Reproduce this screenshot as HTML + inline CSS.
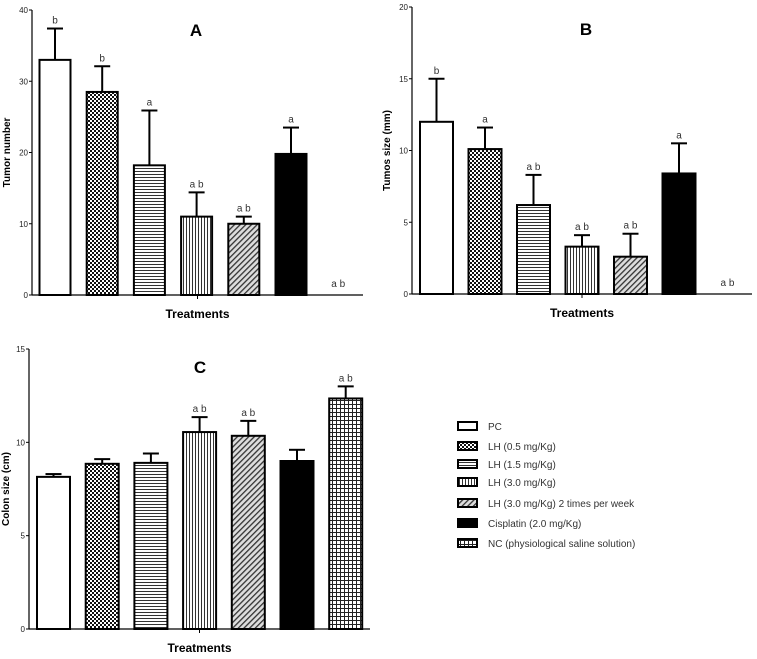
<!DOCTYPE html>
<html><head><meta charset="utf-8">
<style>
body{margin:0;background:#fff;width:757px;height:654px;overflow:hidden;font-family:"Liberation Sans",Arial,sans-serif}
svg text{font-family:"Liberation Sans",Arial,sans-serif}
</style></head>
<body>
<svg id="fig" width="757" height="654" viewBox="0 0 757 654" xmlns="http://www.w3.org/2000/svg">
<defs>
<pattern id="p0" width="4" height="4" patternUnits="userSpaceOnUse"><rect width="4" height="4" fill="#fff"/></pattern>
<pattern id="p1" width="4" height="4" patternUnits="userSpaceOnUse"><rect width="4" height="4" fill="#fff"/><rect width="2" height="2" fill="#111"/><rect x="2" y="2" width="2" height="2" fill="#111"/></pattern>
<pattern id="p2" width="4" height="3" patternUnits="userSpaceOnUse"><rect width="4" height="3" fill="#fff"/><rect width="4" height="1" fill="#333"/></pattern>
<pattern id="p3" width="3" height="4" patternUnits="userSpaceOnUse"><rect width="3" height="4" fill="#fff"/><rect width="1" height="4" fill="#333"/></pattern>
<pattern id="p4" width="4" height="4" patternUnits="userSpaceOnUse" patternTransform="rotate(45)"><rect width="4" height="4" fill="#ddd"/><rect width="1.3" height="4" fill="#333"/></pattern>
<pattern id="p5" width="4" height="4" patternUnits="userSpaceOnUse"><rect width="4" height="4" fill="#000"/></pattern>
<pattern id="p6" width="4" height="4" patternUnits="userSpaceOnUse"><rect width="4" height="4" fill="#fff"/><rect width="4" height="1" fill="#222"/><rect width="1" height="4" fill="#222"/></pattern>
</defs>
</svg>
<script>
const categories=["PC","LH (0.5 mg/Kg)","LH (1.5 mg/Kg)","LH (3.0 mg/Kg)","LH (3.0 mg/Kg) 2 times per week","Cisplatin (2.0 mg/Kg)","NC (physiological saline solution)"];
const tumorNumber=[33,28.5,18.2,11,10,19.8,0];
const tumorNumberErr=[4.4,3.6,7.7,3.4,1,3.7,0];
const tumorNumberSig=["b","b","a","a b","a b","a","a b"];
const tumorSize=[12,10.1,6.2,3.3,2.6,8.4,0];
const tumorSizeErr=[3,1.5,2.1,0.8,1.6,2.1,0];
const tumorSizeSig=["b","a","a b","a b","a b","a","a b"];
const colonSize=[8.15,8.85,8.9,10.55,10.35,9.0,12.35];
const colonSizeErr=[0.15,0.25,0.5,0.8,0.8,0.6,0.65];
const colonSizeSig=["","","","a b","a b","","a b"];
const ticksA=[0,10,20,30,40],ticksB=[0,5,10,15,20],ticksC=[0,5,10,15];

const NS="http://www.w3.org/2000/svg";
const svg=document.getElementById('fig');
function mk(t,a,p){const e=document.createElementNS(NS,t);for(const k in a)e.setAttribute(k,a[k]);(p||svg).appendChild(e);return e;}

function panel(cfg){
  const g=mk('g',{});
  
  
  const {x0,x1,y0,y1,max,vals,errs,sig,ticks,first,step,bw}=cfg;
  const ys=v=>y0-(v/max)*(y0-y1);
  const xs=i=>first+i*step;
  const ax=mk('line',{x1:x0,y1:y1,x2:x0,y2:y0,stroke:'#000','stroke-width':1.2},g);
  
  const bx=mk('line',{x1:x0,y1:y0,x2:x1,y2:y0,stroke:'#000','stroke-width':1.2},g);
  
  mk('line',{x1:(x0+x1)/2,y1:y0,x2:(x0+x1)/2,y2:y0+4,stroke:'#000'},g);
  ticks.forEach(t=>{
    mk('line',{x1:x0-3,y1:ys(t),x2:x0,y2:ys(t),stroke:'#000'},g);
    const tl=mk('text',{x:x0-4,y:ys(t)+3,'font-size':8,'text-anchor':'end',fill:'#222'},g);
    tl.textContent=t;
    
  });
  vals.forEach((v,i)=>{
    const cx=xs(i);
    if(v>0){
      const top=ys(v+errs[i]);
      mk('line',{x1:cx,y1:ys(v),x2:cx,y2:top,stroke:'#000','stroke-width':2},g);
      mk('line',{x1:cx-8,y1:top,x2:cx+8,y2:top,stroke:'#000','stroke-width':2},g);
      const r=mk('rect',{x:cx-bw/2,y:ys(v),width:bw,height:y0-ys(v),fill:'url(#p'+i+')',stroke:'#000','stroke-width':2},g);
      
      
    }
    if(sig[i]){
      const ly=v>0?ys(v+errs[i])-5:y0-8;
      const s=mk('text',{x:cx,y:ly,'font-size':10,'text-anchor':'middle',fill:'#333'},g);
      s.textContent=sig[i];
      
    }
  });
  const tt=mk('text',{x:cfg.tx,y:cfg.ty,'font-size':17,'font-weight':'bold','text-anchor':'middle'},g);
  tt.textContent=cfg.title;
  
  const xl=mk('text',{x:(x0+x1)/2,y:y0+23,'font-size':12,'font-weight':'bold','text-anchor':'middle'},g);
  xl.textContent='Treatments';
  
  const cy=(y0+y1)/2;
  const yl=mk('text',{x:cfg.ylx,y:cy,'font-size':10,'font-weight':'bold','text-anchor':'middle',transform:'rotate(-90 '+cfg.ylx+' '+cy+')'},g);
  yl.textContent=cfg.ylabel;
  
}
panel({name:'panel-a',x0:32,x1:363,y0:295,y1:10,max:40,vals:tumorNumber,errs:tumorNumberErr,sig:tumorNumberSig,ticks:ticksA,first:55,step:47.2,bw:31,title:'A',tx:196,ty:36,ylx:10,ylabel:'Tumor number'});
panel({name:'panel-b',x0:412,x1:752,y0:294,y1:7,max:20,vals:tumorSize,errs:tumorSizeErr,sig:tumorSizeSig,ticks:ticksB,first:436.5,step:48.5,bw:33,title:'B',tx:586,ty:35,ylx:10+380,ylabel:'Tumos size (mm)'});
panel({name:'panel-c',x0:29,x1:370,y0:629,y1:349,max:15,vals:colonSize,errs:colonSizeErr,sig:colonSizeSig,ticks:ticksC,first:53.5,step:48.7,bw:33,title:'C',tx:200,ty:373,ylx:9,ylabel:'Colon size (cm)'});

const lg=mk('g',{});


const ly=[426,446,464,482,503,523,543];
categories.forEach((c,i)=>{
  const r=mk('rect',{x:458,y:ly[i]-4,width:19,height:8,fill:'url(#p'+i+')',stroke:'#000','stroke-width':2},lg);
  
  const t=mk('text',{x:488,y:ly[i]+4,'font-size':10,fill:'#333'},lg);
  t.textContent=c;
  
});
</script>
</body></html>
